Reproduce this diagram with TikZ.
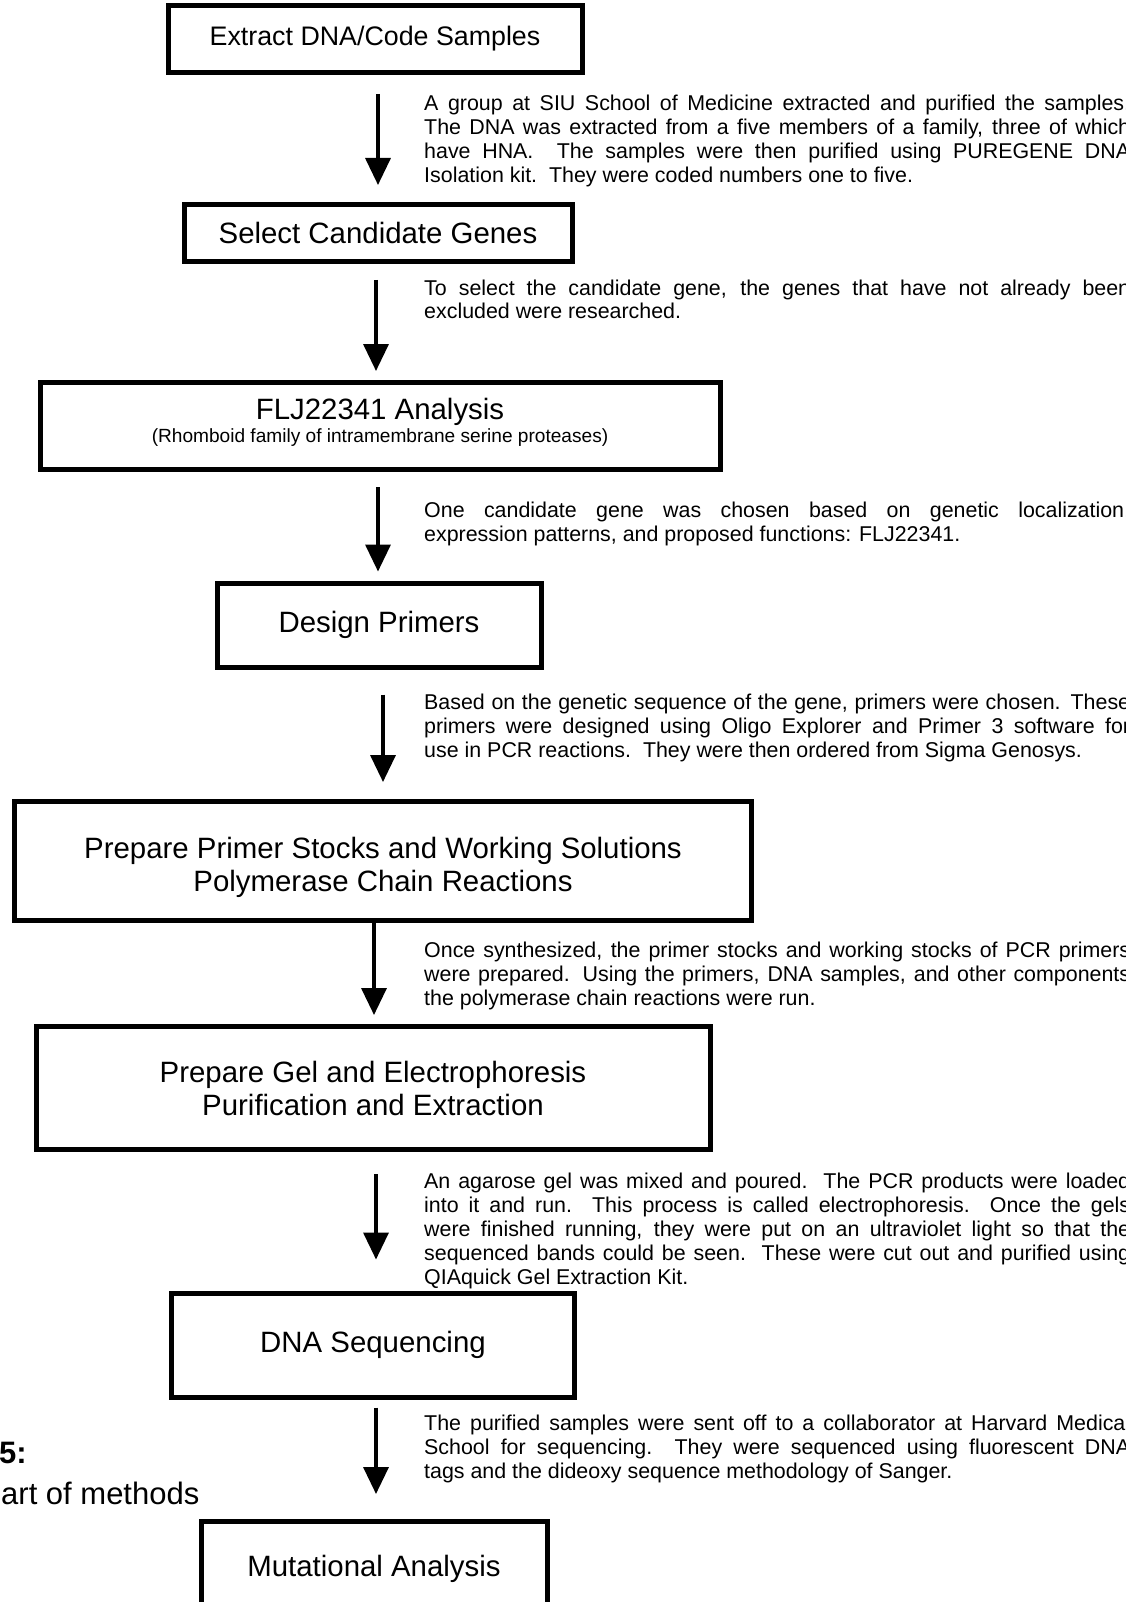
\documentclass[tikz,border=0pt]{standalone}
\usepackage{fontspec}
\setmainfont{Liberation Sans}
\usetikzlibrary{arrows.meta}

% justified note lines
\newlength\notewd
\setlength\notewd{706pt}
\newcommand\fullline[1]{\hbox to\notewd{#1}}
\newcommand\lastline[1]{\hbox{#1}}

\begin{document}
\begin{tikzpicture}[x=1pt, y=-1pt,
  box/.style={draw, line width=5pt, inner sep=0pt, align=center, font=\fontsize{29.4}{33}\selectfont},
  boxtext/.style={inner sep=0pt, align=center, font=\fontsize{29.4}{33}\selectfont},
  note/.style={anchor=base west, inner sep=0pt, font=\fontsize{21.4}{24}\selectfont},
  flow/.style={line width=3.5pt, -{Triangle[width=25pt, length=27pt]}}]
\clip (0,0) rectangle (1146,1602);

% steps
\node[box, minimum width=414pt, minimum height=67pt, font=\fontsize{26.8}{30}\selectfont] (extract) at (375,39) {Extract DNA/Code Samples};
\node[box, minimum width=388pt, minimum height=57pt] (select) at (378,233) {Select Candidate Genes};
\node[box, minimum width=680pt, minimum height=87pt] (analysis) at (380,426) {};
\node[boxtext] (analysis-text) at ([yshift=4pt]analysis.center) {FLJ22341 Analysis\\[-10pt]{\fontsize{19.1}{22}\selectfont (Rhomboid family of intramembrane serine proteases)}};
\node[box, minimum width=324pt, minimum height=84pt] (primers) at (379,625) {Design Primers};
\node[box, minimum width=737pt, minimum height=119pt] (prepare) at (383,861) {};
\node[boxtext] (prepare-text) at ([yshift=-6pt]prepare.center) {Prepare Primer Stocks and Working Solutions\\Polymerase Chain Reactions};
\node[box, minimum width=674pt, minimum height=123pt] (gel) at (373,1088) {Prepare Gel and Electrophoresis\\Purification and Extraction};
\node[box, minimum width=403pt, minimum height=104pt] (sequencing) at (373,1345) {DNA Sequencing};
\node[box, minimum width=346pt, minimum height=95pt] (mutation) at (374,1569) {Mutational Analysis};

% arrows
\draw[flow] ([xshift=3pt, yshift=-19pt]extract.south) -- ([yshift=17pt]select.north);
\draw[flow] ([xshift=-2pt, yshift=-16pt]select.south) -- ([xshift=-4pt, yshift=9pt]analysis.north);
\draw[flow] ([xshift=-2pt, yshift=-15pt]analysis.south) -- ([xshift=-1pt, yshift=9pt]primers.north);
\draw[flow] ([xshift=4pt, yshift=-25pt]primers.south) -- ([yshift=17pt]prepare.north);
\draw[flow] ([xshift=-9pt]prepare.south) -- ([xshift=1pt, yshift=9pt]gel.north);
\draw[flow] ([xshift=3pt, yshift=-22pt]gel.south) -- ([xshift=3pt, yshift=31pt]sequencing.north);
\draw[flow] ([xshift=3pt, yshift=-8pt]sequencing.south) -- ([xshift=2pt, yshift=25pt]mutation.north);

% notes
\begin{scope}
\clip (0,0) rectangle (1125,1602);
\node[note] (n1) at (424,111) {\vtop{%
  \fullline{A group at SIU School of Medicine extracted and purified the samples.}
  \fullline{The DNA was extracted from a five members of a family, three of which}
  \fullline{have HNA.\ \ The samples were then purified using PUREGENE DNA}
  \lastline{Isolation kit.\ \ They were coded numbers one to five.}}};
\node[note] (n2) at (424,295) {\vtop{%
  \fullline{To select the candidate gene, the genes that have not already been}
  \lastline{excluded were researched.}}};
\node[note] (n3) at (424,517) {\vtop{%
  \fullline{One candidate gene was chosen based on genetic localization,}
  \lastline{expression patterns, and proposed functions: FLJ22341.}}};
\node[note] (n4) at (424,709) {\vtop{%
  \fullline{Based on the genetic sequence of the gene, primers were chosen. These}
  \fullline{primers were designed using Oligo Explorer and Primer 3 software for}
  \lastline{use in PCR reactions.\ \ They were then ordered from Sigma Genosys.}}};
\node[note] (n5) at (424,957) {\vtop{%
  \fullline{Once synthesized, the primer stocks and working stocks of PCR primers}
  \fullline{were prepared. Using the primers, DNA samples, and other components}
  \lastline{the polymerase chain reactions were run.}}};
\node[note] (n6) at (424,1188) {\vtop{%
  \fullline{An agarose gel was mixed and poured.\ \ The PCR products were loaded}
  \fullline{into it and run.\ \ This process is called electrophoresis.\ \ Once the gels}
  \fullline{were finished running, they were put on an ultraviolet light so that the}
  \fullline{sequenced bands could be seen.\ \ These were cut out and purified using}
  \lastline{QIAquick Gel Extraction Kit.}}};
\node[note] (n7) at (424,1430) {\vtop{%
  \fullline{The purified samples were sent off to a collaborator at Harvard Medical}
  \fullline{School for sequencing.\ \ They were sequenced using fluorescent DNA}
  \lastline{tags and the dideoxy sequence methodology of Sanger.}}};
\end{scope}

% caption, cut at the left edge
\node[anchor=base west, inner sep=0pt, font=\bfseries\fontsize{31}{35}\selectfont] (fig) at (-1,1463) {5:};
\node[anchor=base west, inner sep=0pt, font=\fontsize{31}{35}\selectfont] (cap) at (1,1504) {art of methods};
\end{tikzpicture}
\end{document}
